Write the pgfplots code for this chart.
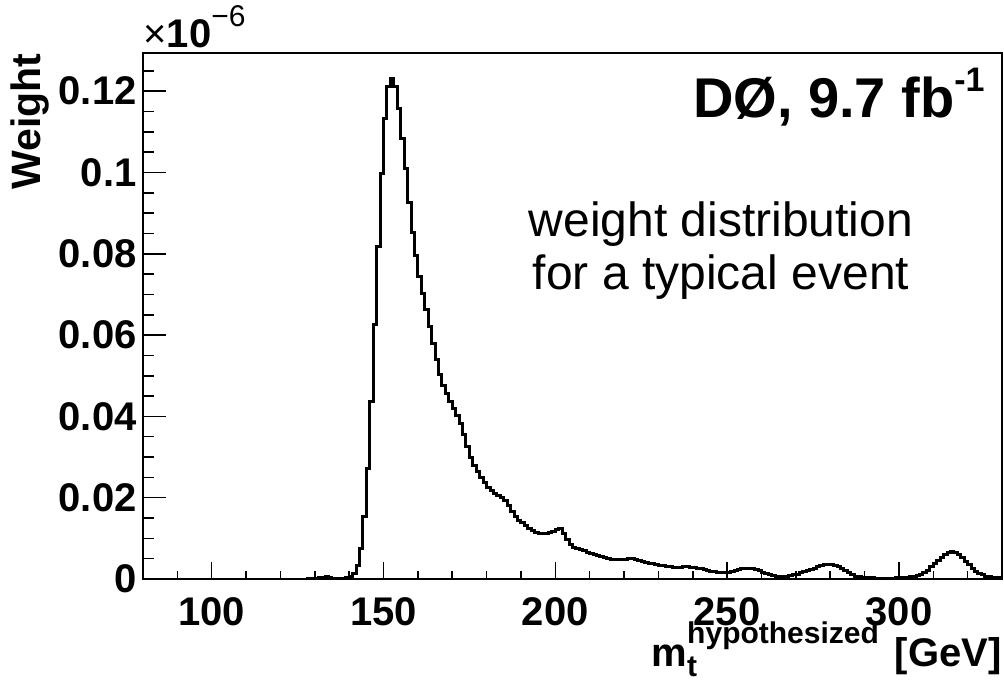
\documentclass[border=0pt]{standalone}
\usepackage{fontspec}
\setmainfont{Liberation Sans}
\usepackage{pgfplots}
\usepackage{pgfplotstable}
\pgfplotsset{compat=1.18}
\pgfplotstableread{
k v
80 0
100 0
120 0
127 0
128 0.0001
129 0.0002
130 0.0002
131 0.0003
132 0.0004
133 0.0005
134 0.0004
135 0.0002
136 0.0002
137 0.0002
138 0.0002
139 0.0003
140 0.0005
141 0.0014
142 0.0032
143 0.0076
144 0.0153
145 0.0272
146 0.0436
147 0.0625
148 0.0817
149 0.0998
150 0.1133
151 0.1211
152 0.1232
153 0.1211
154 0.1158
155 0.1084
156 0.1009
157 0.0927
158 0.0853
159 0.0797
160 0.0745
161 0.0703
162 0.0662
163 0.0621
164 0.0580
165 0.0539
166 0.0502
167 0.0477
168 0.0457
169 0.0436
170 0.0420
171 0.0403
172 0.0383
173 0.0355
174 0.0326
175 0.0300
176 0.0280
177 0.0264
178 0.0250
179 0.0237
180 0.0225
181 0.0217
182 0.0210
183 0.0205
184 0.0200
185 0.0194
186 0.0182
187 0.0166
188 0.0153
189 0.0145
190 0.0138
191 0.0131
192 0.0125
193 0.0120
194 0.0115
195 0.0112
196 0.0111
197 0.0111
198 0.0114
199 0.0118
200 0.0123
201 0.0124
202 0.0112
203 0.0096
204 0.0084
205 0.0078
206 0.0075
207 0.0072
208 0.0069
209 0.0066
210 0.0063
211 0.0061
212 0.0058
213 0.0056
214 0.0053
215 0.0051
216 0.0049
217 0.0048
218 0.0047
219 0.0047
220 0.0049
221 0.0050
222 0.0050
223 0.0048
224 0.0045
225 0.0043
226 0.0041
227 0.0039
228 0.0037
229 0.0035
230 0.0034
231 0.0032
232 0.0031
233 0.0030
234 0.0029
235 0.0029
236 0.0029
237 0.0030
238 0.0030
239 0.0029
240 0.0028
241 0.0026
242 0.0025
243 0.0023
244 0.0021
245 0.0019
246 0.0018
247 0.0017
248 0.0016
249 0.0016
250 0.0017
251 0.0019
252 0.0021
253 0.0023
254 0.0025
255 0.0026
256 0.0026
257 0.0025
258 0.0023
259 0.0020
260 0.0017
261 0.0014
262 0.0011
263 0.0008
264 0.0006
265 0.0005
266 0.0005
267 0.0006
268 0.0008
269 0.0010
270 0.0012
271 0.0015
272 0.0018
273 0.0021
274 0.0024
275 0.0027
276 0.0030
277 0.0033
278 0.0035
279 0.0036
280 0.0036
281 0.0034
282 0.0030
283 0.0025
284 0.0020
285 0.0015
286 0.0010
287 0.0007
288 0.0005
289 0.0004
290 0.0003
291 0.0003
292 0.0003
293 0.0002
294 0.0002
295 0.0002
296 0.0002
297 0.0002
298 0.0002
299 0.0003
300 0.0003
301 0.0003
302 0.0004
303 0.0005
304 0.0007
305 0.0009
306 0.0012
307 0.0016
308 0.0022
309 0.0030
310 0.0038
311 0.0045
312 0.0053
313 0.0060
314 0.0065
315 0.0067
316 0.0065
317 0.0060
318 0.0053
319 0.0044
320 0.0035
321 0.0026
322 0.0019
323 0.0014
324 0.0010
325 0.0007
326 0.0005
327 0.0004
328 0.0003
329 0.0003
330 0.0003
}\histdata
\begin{document}
\begin{tikzpicture}
\begin{axis}[
  at={(0,0)}, anchor=south west,
  scale only axis, width=429.5pt, height=263pt,
  xmin=80, xmax=330, ymin=0, ymax=0.1294,
  axis line style={line width=1pt},
  tick align=inside, tick pos=left,
  xtick={100,150,200,250,300},
  minor xtick={90,110,120,130,140,160,170,180,190,210,220,230,240,260,270,280,290,310,320},
  ytick={0,0.02,0.04,0.06,0.08,0.1,0.12},
  yticklabels={0,0.02,0.04,0.06,0.08,0.1,0.12},
  minor ytick={0.005,0.01,0.015,0.025,0.03,0.035,0.045,0.05,0.055,0.065,0.07,0.075,0.085,0.09,0.095,0.105,0.11,0.115,0.125},
  scaled y ticks=false, scaled x ticks=false,
  /pgf/number format/assume math mode=true,
  ticklabel style={font=\fontsize{20}{20}\selectfont\bfseries, inner sep=0pt},
  xticklabel style={anchor=north, yshift=-9pt},
  yticklabel style={anchor=east, xshift=-3pt},
  xtick style={line width=0.75pt, black, /pgfplots/major tick length=8.5pt, /pgfplots/minor tick length=4pt},
  ytick style={line width=0.75pt, black, /pgfplots/major tick length=11.5pt, /pgfplots/minor tick length=5.5pt},
]
\addplot[const plot, black, line width=1.5pt] table[x=k, y=v] {\histdata};
\end{axis}
\node[anchor=base west, inner sep=0pt, font=\fontsize{20}{20}\selectfont] at (0pt,265.5pt) {×{\bfseries 10}\raisebox{10.5pt}{\fontsize{15}{15}\selectfont −6}};
\node[rotate=90, anchor=base east, inner sep=0pt, font=\fontsize{20.5}{20.5}\selectfont\bfseries] at (-51pt,263pt) {Weight};
\node[anchor=base east, inner sep=0pt, font=\fontsize{20}{20}\selectfont\bfseries] at (429.5pt,-43.5pt) {m\rlap{\raisebox{-5pt}{\fontsize{15}{15}\selectfont t}}\raisebox{11.5pt}{\fontsize{15}{15}\selectfont hypothesized}\hspace{0.4em}[GeV]};
\node[anchor=base east, inner sep=0pt, font=\fontsize{28}{28}\selectfont\bfseries] at (421pt,230.5pt) {DØ, 9.7 fb\raisebox{13pt}{\fontsize{17}{17}\selectfont -1}};
\node[anchor=base, inner sep=0pt, font=\fontsize{24}{24}\selectfont] at (289pt,171pt) {weight distribution};
\node[anchor=base, inner sep=0pt, font=\fontsize{24}{24}\selectfont] at (289pt,144.5pt) {for a typical event};
\pgfresetboundingbox
\path[use as bounding box] (-71.5pt,-50pt) rectangle (430.5pt,289.5pt);
\end{tikzpicture}
\end{document}
